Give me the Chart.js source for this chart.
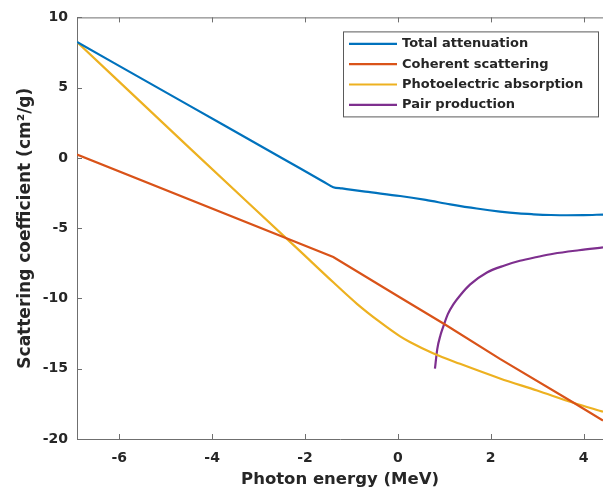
<!DOCTYPE html>
<html>
<head>
<meta charset="utf-8">
<script src="https://cdn.jsdelivr.net/npm/chart.js@4.4.0/dist/chart.umd.min.js"></script>
<style>
html, body { margin: 0; padding: 0; background: #fff; overflow: hidden; }
#wrap { width: 603px; height: 491px; position: relative; }
</style>
</head>
<body>
<div id="wrap"><canvas id="myChart"></canvas></div>
<script>
// series names and colours (MATLAB default order)
const seriesNames = ['Total attenuation', 'Coherent scattering', 'Photoelectric absorption', 'Pair production'];
const seriesColors = ['#0072bd', '#d95319', '#edb120', '#7e2f8e'];

// ln(photon energy) values and coefficients
const totalX = [-6.91, -4.5, -2.5, -1.6, -1.39, -1.2, -0.7, 0.05, 0.6, 1.13, 1.7, 2.2, 2.6, 2.92, 3.3, 3.64, 4.0, 4.42];
const totalY = [8.25, 3.74, -0.0, -1.69, -2.08, -2.17, -2.4, -2.71, -2.99, -3.3, -3.6, -3.82, -3.95, -4.01, -4.06, -4.08, -4.07, -4.03];

const coherentX = [-6.91, -1.39, 0.05, 1.0, 2.2, 3.78, 4.42];
const coherentY = [0.24, -7.05, -9.93, -11.82, -14.3, -17.4, -18.68];

const photoX = [-6.91, -4.5, -2.1, -1.39, -0.88, -0.38, 0.05, 0.26, 0.77, 1.34, 2.2, 3.0, 3.78, 4.42];
const photoY = [8.25, 0.75, -6.65, -8.85, -10.38, -11.69, -12.7, -13.1, -13.92, -14.65, -15.69, -16.55, -17.42, -18.06];

const pairX = [0.80, 0.85, 0.92, 0.98, 1.08, 1.2, 1.35, 1.56, 1.92, 2.3, 2.63, 3.0, 3.35, 3.9, 4.42];
const pairY = [-15.0, -13.6, -12.6, -12.0, -11.1, -10.4, -9.75, -9.0, -8.15, -7.65, -7.32, -7.05, -6.82, -6.57, -6.37];

const xTicks = [-6, -4, -2, 0, 2, 4];
const yTicks = [-20, -15, -10, -5, 0, 5, 10];
const xMin = -6.91, xMax = 4.42;
const yMin = -20, yMax = 10;

const toPoints = (xs, ys) => xs.map((x, i) => ({ x: x, y: ys[i] }));

const axisColor = '#6f6f6f';
const textColor = '#262626';
const fontFamily = '"DejaVu Sans", sans-serif';

// inward tick marks, top box edge and the legend box
const matlabAxes = {
    id: 'matlabAxes',
    afterDraw(chart) {
        const ctx = chart.ctx;
        const a = chart.chartArea;
        const xs = chart.scales.x, ys = chart.scales.y;
        ctx.save();
        ctx.strokeStyle = axisColor;
        ctx.lineWidth = 1;
        ctx.beginPath();
        ctx.moveTo(a.left, a.top + 0.5);
        ctx.lineTo(a.right, a.top + 0.5);
        xTicks.forEach(v => {
            const px = Math.round(xs.getPixelForValue(v)) + 0.5;
            ctx.moveTo(px, a.bottom);
            ctx.lineTo(px, a.bottom - 5);
            ctx.moveTo(px, a.top);
            ctx.lineTo(px, a.top + 5);
        });
        yTicks.forEach(v => {
            const py = Math.round(ys.getPixelForValue(v)) + 0.5;
            ctx.moveTo(a.left, py);
            ctx.lineTo(a.left + 5, py);
        });
        ctx.stroke();

        // legend
        const x0 = a.right - 260, y0 = a.top + 14, w = 255, h = 85;
        ctx.fillStyle = '#fff';
        ctx.fillRect(x0, y0, w, h);
        ctx.strokeStyle = '#5a5a5a';
        ctx.strokeRect(x0 + 0.5, y0 + 0.5, w, h);
        ctx.font = 'bold 13px ' + fontFamily;
        ctx.textBaseline = 'middle';
        ctx.textAlign = 'left';
        chart.data.datasets.forEach((ds, i) => {
            const ry = y0 + 12.5 + i * 20.3;
            ctx.strokeStyle = ds.borderColor;
            ctx.lineWidth = 2.2;
            ctx.beginPath();
            ctx.moveTo(x0 + 6, ry);
            ctx.lineTo(x0 + 54, ry);
            ctx.stroke();
            ctx.fillStyle = textColor;
            ctx.fillText(ds.label, x0 + 59, ry);
        });
        ctx.restore();
    }
};

const lineData = {
    datasets: [
        { label: seriesNames[0], data: toPoints(totalX, totalY), borderColor: seriesColors[0], cubicInterpolationMode: 'monotone' },
        { label: seriesNames[1], data: toPoints(coherentX, coherentY), borderColor: seriesColors[1], tension: 0 },
        { label: seriesNames[2], data: toPoints(photoX, photoY), borderColor: seriesColors[2], cubicInterpolationMode: 'monotone' },
        { label: seriesNames[3], data: toPoints(pairX, pairY), borderColor: seriesColors[3], cubicInterpolationMode: 'monotone' }
    ].map(ds => Object.assign(ds, {
        showLine: true,
        pointRadius: 0,
        borderWidth: 2.2,
        fill: false
    }))
};

const lineConfig = {
    type: 'scatter',
    data: lineData,
    options: {
        responsive: true,
        maintainAspectRatio: false,
        animation: false,
        layout: { padding: { top: 16, right: 0, left: 0, bottom: 0 } },
        plugins: {
            legend: { display: false },
            tooltip: { enabled: false }
        },
        scales: {
            x: {
                type: 'linear',
                min: xMin,
                max: xMax,
                afterBuildTicks: s => { s.ticks = xTicks.map(v => ({ value: v })); },
                afterFit: s => { s.height = 52; },
                grid: { display: true, drawOnChartArea: false, drawTicks: false },
                border: { display: true, color: axisColor, width: 1 },
                ticks: {
                    padding: 11,
                    color: textColor,
                    font: { family: fontFamily, size: 14, weight: 'bold' },
                    callback: v => String(v)
                },
                title: {
                    display: true,
                    text: 'Photon energy (MeV)',
                    color: textColor,
                    padding: { top: 0, bottom: 1 },
                    font: { family: fontFamily, size: 16.5, weight: 'bold' }
                }
            },
            y: {
                type: 'linear',
                min: yMin,
                max: yMax,
                afterBuildTicks: s => { s.ticks = yTicks.map(v => ({ value: v })); },
                afterFit: s => { s.width = 77; },
                grid: { display: true, drawOnChartArea: false, drawTicks: false },
                border: { display: true, color: axisColor, width: 1 },
                ticks: {
                    padding: 9,
                    color: textColor,
                    font: { family: fontFamily, size: 14, weight: 'bold' },
                    callback: v => String(v)
                },
                title: {
                    display: true,
                    text: 'Scattering coefficient (cm\u00b2/g)',
                    color: textColor,
                    padding: { top: 15, bottom: 0 },
                    font: { family: fontFamily, size: 17, weight: 'bold' }
                }
            }
        }
    },
    plugins: [matlabAxes]
};

var lineChart = new Chart(document.getElementById('myChart'), lineConfig);
</script>
</body>
</html>
